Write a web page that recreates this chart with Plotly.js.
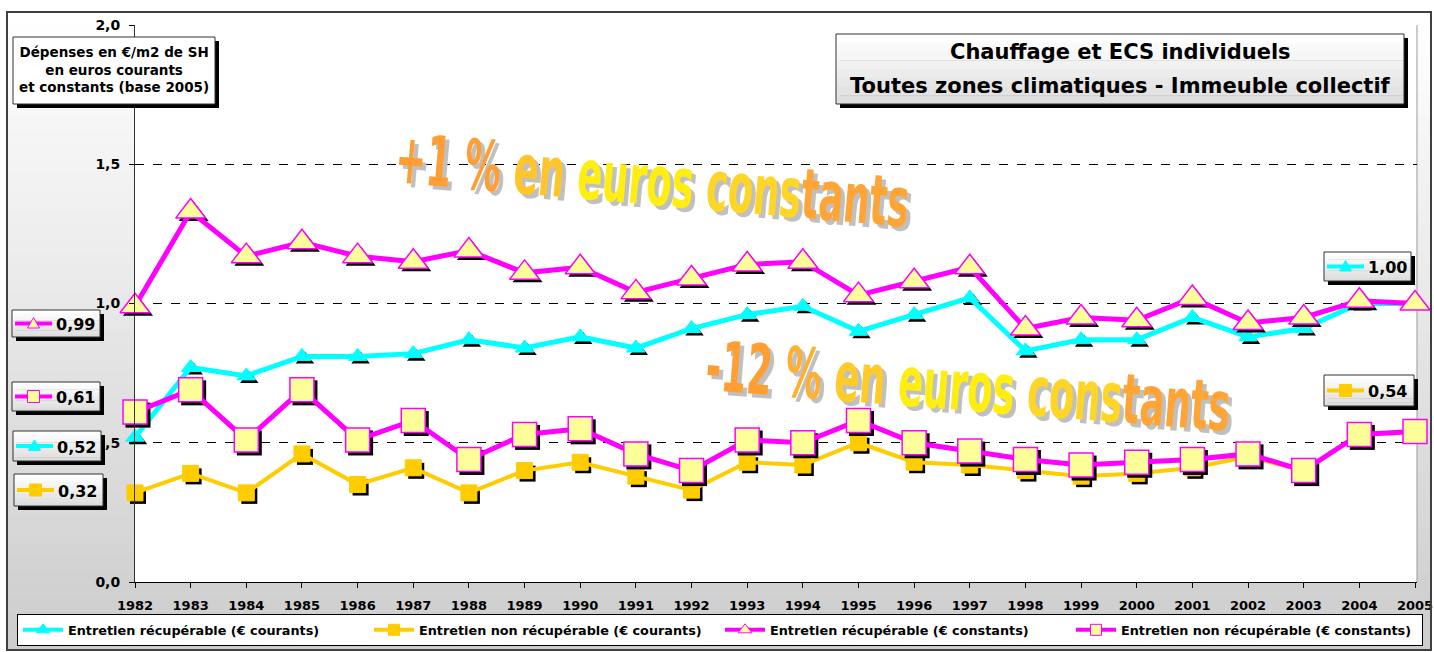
<!DOCTYPE html>
<html>
<head>
<meta charset="utf-8">
<script src="https://cdn.plot.ly/plotly-3.0.1.min.js"></script>
<style>html,body{margin:0;padding:0;background:#fff;}#chart{width:1434px;height:652px;}</style>
</head>
<body>
<div id="chart"></div>
<script>
// ---- DATA ----
const years = [1982,1983,1984,1985,1986,1987,1988,1989,1990,1991,1992,1993,1994,1995,1996,1997,1998,1999,2000,2001,2002,2003,2004,2005];
const recupCourants    = [0.52,0.77,0.74,0.81,0.81,0.82,0.87,0.84,0.88,0.84,0.91,0.96,0.99,0.90,0.96,1.02,0.83,0.87,0.87,0.95,0.88,0.91,1.00,1.00];
const nonRecupCourants = [0.32,0.39,0.32,0.46,0.35,0.41,0.32,0.40,0.43,0.38,0.33,0.43,0.42,0.50,0.43,0.42,0.40,0.38,0.39,0.41,0.45,0.40,0.53,0.54];
const recupConstants   = [0.99,1.33,1.17,1.22,1.17,1.15,1.19,1.11,1.13,1.04,1.09,1.14,1.15,1.03,1.08,1.13,0.91,0.95,0.94,1.02,0.93,0.95,1.01,1.00];
const nonRecupConstants= [0.61,0.69,0.51,0.69,0.51,0.58,0.44,0.53,0.55,0.46,0.40,0.51,0.50,0.58,0.50,0.47,0.44,0.42,0.43,0.44,0.46,0.40,0.53,0.54];
const seriesNames = [
  'Entretien récupérable (€ courants)',
  'Entretien non récupérable (€ courants)',
  'Entretien récupérable (€ constants)',
  'Entretien non récupérable (€ constants)'
];
const titleLines = ['Chauffage et ECS individuels','Toutes zones climatiques - Immeuble collectif'];
const yTitleLines = ['Dépenses en €/m2 de SH','en euros courants','et constants (base 2005)'];
const noteUp = ['+1 %',' en',' euros',' cons','tants'];
const noteDown = ['-12',' %',' en',' euros',' cons','tants'];

// ---- GEOMETRY ----
const W = 1434, H = 652, L = 135, R = 17, T = 25, B = 70;
const PW = W - L - R, PH = H - T - B;
const xMin = 1982, xMax = 2005 + 2 * 23 / 1280;
const fx = p => (p - L) / PW;
const fy = p => (H - B - p) / PH;
const fmt = v => v.toFixed(2).replace('.', ',');

const FONT = '"DejaVu Sans", Verdana, sans-serif';
const CYAN = '#00FFFF', GOLD = '#FFCC00', MAG = '#FF00FF', PALE = '#FFFF99';

// shadow offsets (3px right / down)
const sdx = 3 * (xMax - xMin) / PW;
const sdy = 3 * 2 / PH;
const shadow = (arr, sym, size) => ({
  x: years.map(v => v + sdx), y: arr.map(v => v - sdy), mode: 'markers', type: 'scatter',
  marker: {symbol: sym, size: size, color: '#000'}, showlegend: false, hoverinfo: 'skip', cliponaxis: false
});
const series = (arr, name, lc, lw, sym, size, fill, edge, ew) => ({
  x: years, y: arr, name: name, type: 'scatter', mode: 'lines+markers', cliponaxis: false, showlegend: false,
  line: {color: lc, width: lw}, marker: {symbol: sym, size: size, color: fill, line: {color: edge, width: ew}}
});
// legend keys (small markers, like the original legend)
const key = (name, lc, sym, size, fill, edge) => ({
  x: [null], y: [null], name: name, type: 'scatter', mode: 'lines+markers', showlegend: true,
  line: {color: lc, width: 4}, marker: {symbol: sym, size: size, color: fill, line: {color: edge, width: 1}}
});

const traces = [
  shadow(recupCourants, 'triangle-up', 16),
  shadow(nonRecupCourants, 'square', 16),
  series(recupCourants, seriesNames[0], CYAN, 5, 'triangle-up', 16, CYAN, CYAN, 1),
  series(nonRecupCourants, seriesNames[1], GOLD, 4, 'square', 16, GOLD, GOLD, 1),
  shadow(recupConstants, 'triangle-up', 26),
  series(recupConstants, seriesNames[2], MAG, 5, 'triangle-up', 26, PALE, MAG, 1.5),
  shadow(nonRecupConstants, 'square', 25),
  series(nonRecupConstants, seriesNames[3], MAG, 5, 'square', 24, PALE, MAG, 1.5),
  key(seriesNames[0], CYAN, 'triangle-up', 12, CYAN, CYAN),
  key(seriesNames[1], GOLD, 'square', 11, GOLD, GOLD),
  key(seriesNames[2], MAG, 'triangle-up', 12, PALE, MAG),
  key(seriesNames[3], MAG, 'square', 11, PALE, MAG)
];

// ---- SHAPES ----
const shapes = [];
const annotations = [];
const rectPx = (x0, y0, x1, y1, fill, line, lw, layer) => shapes.push({
  type: 'rect', xref: 'paper', yref: 'paper', x0: fx(x0), x1: fx(x1), y0: fy(y0), y1: fy(y1),
  fillcolor: fill, line: {color: line || 'rgba(0,0,0,0)', width: lw || 0}, layer: layer || 'above'
});
function gradRect(x0, y0, x1, y1, c0, c1, n, layer) {
  for (let i = 0; i < n; i++) {
    const t = i / (n - 1);
    const c = Math.round(c0 + (c1 - c0) * t);
    const a = y0 + (y1 - y0) * i / n, b = y0 + (y1 - y0) * (i + 1) / n + 0.6;
    rectPx(x0, a, x1, Math.min(b, y1), `rgb(${c},${c},${c})`, null, 0, layer);
  }
}
// chart background gradient + white plot area
gradRect(7, 12, 1431, 650, 255, 205, 48, 'below');
rectPx(L, T, W - R, H - B, '#FFFFFF', null, 0, 'below');
shapes.push({type: 'line', xref: 'paper', yref: 'paper', x0: 1, x1: 1, y0: 0, y1: 1, line: {color: '#999', width: 1}, layer: 'below'});
// outer frame
rectPx(7, 12, 1431, 650, 'rgba(0,0,0,0)', '#404040', 2, 'above');

function boxPx(x0, y0, x1, y1) {
  rectPx(x0 + 4, y0 + 4, x1 + 4, y1 + 4, '#000', null, 0, 'above');
  gradRect(x0, y0, x1, y1, 255, 222, 8, 'above');
  rectPx(x0, y0, x1, y1, 'rgba(0,0,0,0)', '#333', 1, 'above');
}

// title box
boxPx(836, 34, 1404, 104);
titleLines.forEach((t, i) => annotations.push({xref: 'paper', yref: 'paper', x: fx(1120), y: fy(i ? 86 : 52),
  xanchor: 'center', yanchor: 'middle', text: t, showarrow: false,
  font: {family: FONT, size: 21, color: '#000', weight: 'bold'}}));

// y title box
rectPx(17, 41, 219, 108, '#000', null, 0, 'above');
rectPx(13, 37, 215, 104, '#FFFFFF', '#333', 1, 'above');
annotations.push({xref: 'paper', yref: 'paper', x: fx(114), y: fy(69.5), xanchor: 'center', yanchor: 'middle',
  text: yTitleLines.join('<br>'), showarrow: false, align: 'center',
  font: {family: FONT, size: 13.5, color: '#000', weight: 'bold'}});

// value label boxes with legend keys
function valueLabel(x0, y0, x1, y1, value, lineColor, markColor, markEdge, sym) {
  boxPx(x0, y0, x1, y1);
  const ym = (y0 + y1) / 2, k0 = x0 + 3, k1 = x0 + 40, km = (k0 + k1) / 2;
  shapes.push({type: 'line', xref: 'paper', yref: 'paper', x0: fx(k0), x1: fx(k1), y0: fy(ym), y1: fy(ym),
    line: {color: lineColor, width: 4}, layer: 'above'});
  const s = 6;
  if (sym === 'tri') {
    shapes.push({type: 'path', xref: 'paper', yref: 'paper', layer: 'above',
      path: `M ${fx(km - s)} ${fy(ym + s * 0.75)} L ${fx(km + s)} ${fy(ym + s * 0.75)} L ${fx(km)} ${fy(ym - s)} Z`,
      fillcolor: markColor, line: {color: markEdge, width: 1}});
  } else {
    shapes.push({type: 'rect', xref: 'paper', yref: 'paper', layer: 'above',
      x0: fx(km - s), x1: fx(km + s), y0: fy(ym - s), y1: fy(ym + s), fillcolor: markColor, line: {color: markEdge, width: 1}});
  }
  annotations.push({xref: 'paper', yref: 'paper', x: fx(x0 + 42), y: fy(ym + 1), xanchor: 'left', yanchor: 'middle',
    text: fmt(value), showarrow: false, font: {family: FONT, size: 16, color: '#000', weight: 'bold'}});
}
valueLabel(12, 310, 100, 337, recupConstants[0], MAG, PALE, MAG, 'tri');
valueLabel(12, 382, 100, 411, nonRecupConstants[0], MAG, PALE, MAG, 'sq');
valueLabel(13, 431, 101, 461, recupCourants[0], CYAN, CYAN, CYAN, 'tri');
valueLabel(14, 474, 103, 506, nonRecupCourants[0], GOLD, GOLD, GOLD, 'sq');
valueLabel(1324, 252, 1411, 281, recupCourants[recupCourants.length - 1], CYAN, CYAN, CYAN, 'tri');
valueLabel(1324, 375, 1414, 406, nonRecupCourants[nonRecupCourants.length - 1], GOLD, GOLD, GOLD, 'sq');

// word-art notes (drawn unrotated, then condensed + rotated about their centre)
const artFx = [];
function wordArt(parts, colors, cx, cy, size, angle, sx, sy) {
  const plain = parts.join('');
  const colored = parts.map((p, i) => `<span style="color:${colors[i]}">${p}</span>`).join('');
  const fam = '"DejaVu Sans Condensed", "DejaVu Sans", sans-serif';
  const base = {xref: 'paper', yref: 'paper', x: fx(cx), y: fy(cy), xanchor: 'center', yanchor: 'middle', showarrow: false};
  artFx.push({i: annotations.length, cx: cx + 4, cy: cy + 4, angle, sx, sy});
  annotations.push(Object.assign({}, base, {text: plain, xshift: 4, yshift: -4,
    font: {family: fam, size: size, color: '#C0C0C0', weight: 'bold'}}));
  artFx.push({i: annotations.length, cx: cx, cy: cy, angle, sx, sy});
  annotations.push(Object.assign({}, base, {text: colored,
    font: {family: fam, size: size, color: '#FFB030', weight: 'bold'}}));
}
wordArt(noteUp, ['#FF9E33', '#FFC52A', '#FFEE10', '#FFD526', '#FFA535'], 652, 180, 62, 5, 0.66, 1.12);
wordArt(noteDown, ['#FF9E33', '#FFB030', '#FFCB28', '#FFEE10', '#FFD526', '#FFA535'], 968, 387, 62, 4.5, 0.66, 1.12);

const layout = {
  width: W, height: H,
  margin: {l: L, r: R, t: T, b: B, pad: 0, autoexpand: false},
  paper_bgcolor: '#FFFFFF', plot_bgcolor: 'rgba(0,0,0,0)',
  separators: ', ',
  font: {family: FONT, color: '#000'},
  showlegend: true,
  legend: {orientation: 'h', x: fx(17), xanchor: 'left', y: fy(614), yanchor: 'top',
    bgcolor: '#FFFFFF', bordercolor: '#000', borderwidth: 1, itemwidth: 40,
    entrywidth: 296, entrywidthmode: 'pixels',
    font: {family: FONT, size: 12.8, color: '#000', weight: 'bold'}, tracegroupgap: 0, traceorder: 'normal'},
  xaxis: {range: [xMin, xMax], tickmode: 'array', tickvals: years, ticktext: years.map(String),
    ticks: 'outside', ticklen: 5, tickcolor: '#000', showgrid: false, zeroline: false, automargin: false,
    showline: true, linecolor: '#000', linewidth: 1, ticklabelstandoff: 6,
    tickfont: {family: FONT, size: 13, color: '#000', weight: 'bold'}},
  yaxis: {range: [0, 2], dtick: 0.5, tick0: 0, tickformat: '.1f', ticks: 'outside', ticklen: 5, tickcolor: '#000',
    showgrid: true, gridcolor: '#000', griddash: 'dash', gridwidth: 1, zeroline: false, automargin: false,
    showline: true, linecolor: '#333', linewidth: 1, ticklabelstandoff: 6,
    tickfont: {family: FONT, size: 14, color: '#000', weight: 'bold'}},
  shapes: shapes,
  annotations: annotations
};

Plotly.newPlot('chart', traces, layout, {displayModeBar: false, staticPlot: true}).then(gd => {
  artFx.forEach(a => {
    const g = gd.querySelector(`.annotation[data-index="${a.i}"] .annotation-text-g`);
    if (g) g.setAttribute('transform',
      `translate(${a.cx},${a.cy}) rotate(${a.angle}) scale(${a.sx},${a.sy}) translate(${-a.cx},${-a.cy})`);
  });
});
</script>
</body>
</html>
